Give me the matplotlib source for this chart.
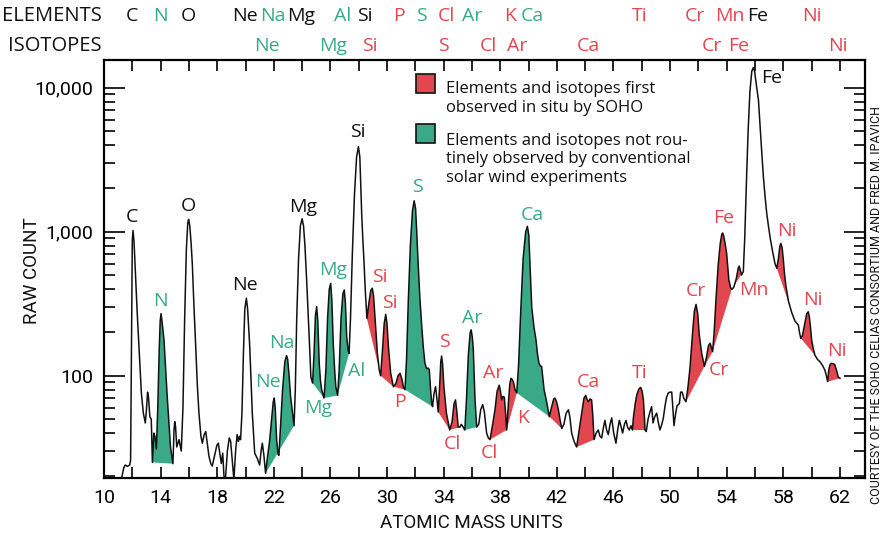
import numpy as np
import matplotlib
matplotlib.use("Agg")
import matplotlib.pyplot as plt
from matplotlib.patches import Rectangle
from matplotlib.ticker import FixedLocator, MultipleLocator, LogLocator, NullFormatter
import matplotlib.transforms as mtransforms

RED = "#e2474f"
GREEN = "#3aaa86"
INK = "#111111"
COLORS = {"k": INK, "r": RED, "g": GREEN}

TEXT_FONT = ["Open Sans", "DejaVu Sans"]
NARROW_FONT = ["Roboto", "DejaVu Sans"]

# mass spectrum (atomic mass units, raw counts)
mass = [
    11.27, 11.40, 11.50, 11.65, 11.82, 11.88, 11.92, 11.96, 12.00, 12.05,
    12.12, 12.24, 12.35, 12.47, 12.64, 12.78, 12.92, 13.00, 13.08, 13.15,
    13.24, 13.34, 13.42, 13.52, 13.60, 13.70, 13.80, 13.90, 13.97, 14.03,
    14.10, 14.24, 14.47, 14.70, 14.87, 14.95, 15.00, 15.06, 15.14, 15.30,
    15.46, 15.58, 15.70, 15.82, 15.92, 15.98, 16.06, 16.15, 16.24, 16.36,
    16.48, 16.60, 16.71, 16.85, 16.95, 17.08, 17.19, 17.30, 17.42, 17.55,
    17.65, 17.85, 17.98, 18.08, 18.18, 18.29, 18.39, 18.48, 18.58, 18.72,
    18.85, 18.95, 19.08, 19.18, 19.30, 19.41, 19.50, 19.58, 19.65, 19.75,
    19.85, 19.95, 20.06, 20.15, 20.30, 20.40, 20.48, 20.65, 20.83, 21.00,
    21.10, 21.19, 21.30, 21.42, 21.55, 21.70, 21.85, 21.96, 22.03, 22.10,
    22.20, 22.30, 22.36, 22.48, 22.62, 22.78, 22.90, 22.98, 23.08, 23.19,
    23.32, 23.43, 23.52, 23.62, 23.75, 23.88, 24.00, 24.10, 24.20, 24.32,
    24.42, 24.50, 24.62, 24.74, 24.84, 24.94, 25.03, 25.11, 25.21, 25.30,
    25.38, 25.55, 25.68, 25.80, 25.92, 26.02, 26.10, 26.20, 26.30, 26.38,
    26.51, 26.62, 26.75, 26.88, 26.98, 27.06, 27.15, 27.25, 27.32, 27.42,
    27.55, 27.70, 27.85, 27.98, 28.08, 28.21, 28.30, 28.38, 28.46, 28.58,
    28.72, 28.85, 28.96, 29.05, 29.15, 29.32, 29.45, 29.55, 29.68, 29.80,
    29.91, 30.00, 30.10, 30.26, 30.45, 30.62, 30.78, 30.92, 31.05, 31.15,
    31.27, 31.38, 31.50, 31.65, 31.80, 31.92, 32.02, 32.10, 32.20, 32.32,
    32.44, 32.56, 32.68, 32.80, 32.92, 32.99, 33.08, 33.16, 33.22, 33.32,
    33.43, 33.52, 33.62, 33.72, 33.80, 33.86, 33.93, 34.02, 34.20, 34.43,
    34.60, 34.74, 34.84, 34.94, 35.03, 35.15, 35.25, 35.38, 35.50, 35.62,
    35.75, 35.88, 35.95, 36.03, 36.10, 36.16, 36.22, 36.34, 36.48, 36.62,
    36.76, 36.88, 37.04, 37.16, 37.28, 37.45, 37.63, 37.78, 37.93, 38.02,
    38.10, 38.20, 38.29, 38.38, 38.46, 38.58, 38.68, 38.76, 38.85, 38.93,
    39.05, 39.17, 39.30, 39.45, 39.62, 39.80, 39.92, 40.02, 40.12, 40.23,
    40.38, 40.53, 40.64, 40.74, 40.84, 40.93, 41.02, 41.10, 41.28, 41.47,
    41.62, 41.78, 41.87, 41.98, 42.10, 42.22, 42.35, 42.50, 42.66, 42.82,
    42.92, 43.05, 43.22, 43.40, 43.58, 43.76, 43.92, 44.04, 44.15, 44.23,
    44.35, 44.46, 44.55, 44.63, 44.78, 44.93, 45.05, 45.17, 45.30, 45.40,
    45.52, 45.64, 45.76, 45.88, 46.02, 46.18, 46.30, 46.42, 46.55, 46.65,
    46.78, 46.89, 47.00, 47.12, 47.24, 47.34, 47.42, 47.55, 47.66, 47.80,
    47.93, 48.03, 48.12, 48.20, 48.23, 48.32, 48.45, 48.58, 48.70, 48.80,
    48.92, 49.06, 49.18, 49.29, 49.42, 49.53, 49.65, 49.76, 49.88, 50.00,
    50.12, 50.20, 50.28, 50.40, 50.50, 50.66, 50.75, 50.86, 50.97, 51.13,
    51.28, 51.42, 51.58, 51.72, 51.84, 51.96, 52.07, 52.24, 52.43, 52.58,
    52.72, 52.83, 52.92, 53.01, 53.12, 53.25, 53.40, 53.55, 53.66, 53.72,
    53.80, 53.90, 54.00, 54.16, 54.28, 54.36, 54.50, 54.68, 54.82, 54.89,
    54.97, 55.06, 55.18, 55.28, 55.40, 55.52, 55.65, 55.78, 55.89, 55.98,
    56.10, 56.25, 56.36, 56.49, 56.60, 56.72, 56.84, 56.96, 57.10, 57.27,
    57.42, 57.55, 57.66, 57.76, 57.83, 57.92, 58.01, 58.10, 58.20, 58.37,
    58.60, 58.83, 58.95, 59.07, 59.15, 59.24, 59.36, 59.52, 59.66, 59.77,
    59.85, 59.93, 60.01, 60.12, 60.24, 60.42, 60.60, 60.80, 60.95, 61.05,
    61.14, 61.22, 61.32, 61.42, 61.55, 61.65, 61.78, 61.89, 62.01,
]
count = [
    20, 23, 24, 23.5, 24, 26, 90, 380, 880, 1020,
    860, 460, 270, 159, 76, 55, 47, 58, 77, 70,
    52, 50, 25, 40, 38, 31, 60, 150, 240, 270,
    240, 177, 71, 32, 24.5, 42, 48, 44, 32, 36,
    30, 60, 250, 750, 1150, 1220, 1100, 850, 600, 300,
    159, 85, 55, 38, 34, 39, 41, 34, 27.5, 24.5,
    23.6, 29, 33, 34, 29, 24.6, 29, 20, 19, 30,
    37, 35, 25, 19, 30, 39, 35, 38, 36, 55,
    140, 290, 345, 290, 159, 90, 55, 29, 26.7, 24,
    30, 34, 28, 21, 27, 35, 50, 66, 70, 60,
    36, 28.5, 28, 45, 80, 125, 138, 130, 100, 71,
    55, 45, 80, 250, 650, 1100, 1230, 1100, 800, 463,
    280, 187, 98, 89, 140, 260, 302, 240, 122, 92,
    80, 70, 110, 250, 400, 438, 340, 168, 110, 84,
    73, 110, 250, 370, 394, 320, 187, 150, 143, 250,
    700, 1800, 3300, 3900, 3300, 1340, 850, 604, 400, 250,
    320, 390, 405, 360, 257, 143, 110, 100, 150, 230,
    267, 230, 159, 104, 84, 88, 100, 104, 95, 84,
    80, 130, 320, 800, 1400, 1640, 1450, 1000, 604, 350,
    232, 160, 122, 112, 113, 110, 80, 64, 61, 75,
    84, 70, 56, 85, 125, 137, 120, 84, 55, 42,
    48, 64, 68, 56, 44, 44, 46, 44, 42, 70,
    140, 200, 208, 185, 151, 100, 68, 44, 46, 58,
    63, 56, 40, 37, 36, 45, 58, 78, 86, 78,
    68, 72, 71, 55, 42, 65, 88, 96, 94, 91,
    80, 76, 120, 280, 650, 1000, 1090, 950, 550, 298,
    220, 177, 140, 122, 117, 116, 95, 80, 66, 52,
    60, 69, 70, 66, 59, 50, 43, 46, 55, 58,
    52, 40, 35, 32, 42, 55, 70, 73, 68, 66,
    69, 68, 52, 36, 40, 42, 38, 37, 44, 49,
    42, 39, 46, 51, 40, 34, 42, 49, 44, 40,
    46, 49, 44, 42, 45, 42, 52, 65, 74, 81,
    83, 78, 68, 50, 42, 41, 50, 56, 61, 47,
    52, 55, 47, 42, 46, 51, 62, 71, 76, 77,
    77, 60, 45, 55, 62, 64, 77, 77, 70, 66,
    85, 116, 190, 280, 313, 270, 191, 143, 116, 135,
    162, 168, 158, 147, 200, 340, 580, 830, 960, 980,
    930, 820, 710, 462, 410, 398, 410, 470, 560, 578,
    540, 500, 528, 900, 2200, 5000, 9500, 13000, 13800, 13000,
    10500, 8200, 5500, 3480, 2400, 1740, 1330, 1090, 880, 710,
    600, 557, 650, 790, 830, 780, 635, 500, 415, 330,
    275, 240, 232, 225, 200, 182, 190, 230, 270, 278,
    255, 215, 177, 155, 139, 130, 125, 117, 109, 100,
    91, 110, 120, 122, 121, 119, 108, 98, 96,
]

# shaded peaks: mass range and category (r = first seen by SOHO, g = not routine)
fill_start = [13.42, 21.42, 24.74, 25.55, 26.51, 28.58, 29.55, 30.45, 31.27,
              33.62, 34.43, 35.50, 37.28, 38.46, 39.17, 41.47, 43.40, 47.34,
              51.13, 52.43, 53.01, 54.36, 57.55, 59.24, 61.14]
fill_end = [14.87, 23.43, 25.55, 26.51, 27.32, 29.55, 30.45, 31.27, 33.22,
            34.43, 35.15, 36.34, 38.46, 39.17, 41.47, 42.35, 44.63, 48.23,
            52.43, 53.01, 54.36, 55.18, 58.83, 60.24, 62.01]
fill_kind = ["g", "g", "g", "g", "g", "r", "r", "r", "g",
             "r", "r", "g", "r", "r", "g", "r", "r", "r",
             "r", "r", "r", "r", "r", "r", "r"]

# peak labels: text, mass, count, colour
peak_text = ["C", "N", "O", "Ne", "Ne", "Na", "Mg", "Mg", "Mg", "Al", "Si",
             "Si", "Si", "P", "S", "S", "Cl", "Ar", "Ar", "Cl", "K", "Ca",
             "Ca", "Ti", "Cr", "Fe", "Mn", "Cr", "Fe", "Ni", "Ni", "Ni"]
peak_x = [12.0, 13.96, 15.96, 19.96, 21.59, 22.58, 24.08, 26.2, 25.14, 27.86,
          27.97, 29.46, 30.21, 30.92, 32.14, 34.03, 34.62, 35.99, 37.51, 37.23,
          39.59, 40.25, 44.23, 47.84, 51.83, 53.77, 55.94, 53.49, 57.19, 58.25,
          60.08, 61.78]
peak_y = [1270, 332, 1517, 427, 90, 170, 1493, 546, 59.4, 108.7,
          4945, 481, 318, 66, 2054, 172, 33.6, 250, 105, 28.9,
          50.6, 1306, 90.9, 104, 389, 1239, 393, 109.5, 11600, 1016,
          336, 148.5]
peak_kind = ["k", "g", "k", "k", "g", "g", "k", "g", "g", "g", "k",
             "r", "r", "r", "g", "r", "r", "g", "r", "r", "r", "g",
             "r", "r", "r", "r", "r", "r", "k", "r", "r", "r"]

# header rows above the plot
element_text = ["C", "N", "O", "Ne", "Na", "Mg", "Al", "Si", "P", "S", "Cl",
                "Ar", "K", "Ca", "Ti", "Cr", "Mn", "Fe", "Ni"]
element_x = [11.98, 13.96, 15.94, 19.96, 21.94, 23.92, 26.89, 28.45, 30.85,
             32.4, 34.17, 36.0, 38.69, 40.25, 47.88, 51.77, 54.24, 56.22, 60.04]
element_kind = ["k", "g", "k", "k", "g", "k", "g", "k", "r", "g", "r",
                "g", "r", "g", "r", "r", "r", "k", "r"]
isotope_text = ["Ne", "Mg", "Si", "S", "Cl", "Ar", "Ca", "Cr", "Fe", "Ni"]
isotope_x = [21.52, 26.18, 28.8, 33.96, 37.14, 39.19, 44.2, 52.97, 54.88, 61.87]
isotope_kind = ["g", "g", "r", "r", "r", "r", "r", "r", "r", "r"]

legend_text = ["Elements and isotopes first\nobserved in situ by SOHO",
               "Elements and isotopes not rou-\ntinely observed by conventional\nsolar wind experiments"]

fig = plt.figure(figsize=(8.93, 5.36), dpi=100)
ax = fig.add_axes([104 / 893, 58 / 536, 761 / 893, 418 / 536])
ax.set_yscale("log")
ax.set_xlim(10, 63.78)
ax.set_ylim(19.5, 15570)

m = np.array(mass)
c = np.array(count)
for x0, x1, kind in zip(fill_start, fill_end, fill_kind):
    sel = (m >= x0 - 1e-6) & (m <= x1 + 1e-6)
    ax.fill(m[sel], c[sel], color=COLORS[kind], lw=0, zorder=2)
ax.plot(m, c, color=INK, lw=1.1, zorder=3, solid_joinstyle="round")

for t, x, y, k in zip(peak_text, peak_x, peak_y, peak_kind):
    ax.text(x, y, t, color=COLORS[k], fontsize=14, family=TEXT_FONT,
            ha="center", va="center", zorder=4)

head = mtransforms.blended_transform_factory(ax.transData, ax.transAxes)
for t, x, k in zip(element_text, element_x, element_kind):
    ax.text(x, 1.105, t, color=COLORS[k], fontsize=14, family=TEXT_FONT,
            ha="center", va="center", transform=head, clip_on=False)
for t, x, k in zip(isotope_text, isotope_x, isotope_kind):
    ax.text(x, 1.034, t, color=COLORS[k], fontsize=14, family=TEXT_FONT,
            ha="center", va="center", transform=head, clip_on=False)
fig.text(102 / 893, 1 - 16 / 536, "ELEMENTS", fontsize=14.5, family=TEXT_FONT,
         ha="right", va="center", color=INK)
fig.text(102 / 893, 1 - 46 / 536, "ISOTOPES", fontsize=14.5, family=TEXT_FONT,
         ha="right", va="center", color=INK)

# legend boxes
for (yb, kind), txt, ty in zip([(0.921, "r"), (0.8014, "g")], legend_text, [0.949, 0.826]):
    ax.add_patch(Rectangle((0.41, yb), 0.025, 0.0445, transform=ax.transAxes,
                           facecolor=COLORS[kind], edgecolor=INK, lw=1.2, zorder=5))
    ax.text(0.449, ty, txt, transform=ax.transAxes, fontsize=12, family=TEXT_FONT,
            ha="left", va="top", linespacing=1.22, color=INK)

# axes styling
for s in ax.spines.values():
    s.set_linewidth(1.6)
ax.xaxis.set_major_locator(FixedLocator(list(range(10, 63, 4))))
ax.xaxis.set_minor_locator(MultipleLocator(2))
ax.tick_params(axis="x", which="both", direction="in", top=True, length=8,
               width=1.2, pad=8)
ax.yaxis.set_major_locator(FixedLocator([100, 1000, 10000]))
ax.yaxis.set_minor_locator(LogLocator(base=10, subs=np.arange(2, 10)))
ax.yaxis.set_minor_formatter(NullFormatter())
ax.set_yticklabels(["100", "1,000", "10,000"])
ax.tick_params(axis="y", which="major", direction="in", right=True, length=15,
               width=1.2, pad=8)
ax.tick_params(axis="y", which="minor", direction="in", right=True, length=8,
               width=1.2)
for lab in ax.get_xticklabels() + ax.get_yticklabels():
    lab.set_family(NARROW_FONT)
    lab.set_fontsize(14)

fig.text(471 / 893, 1 - 523 / 536, "ATOMIC MASS UNITS", family=NARROW_FONT,
         fontsize=13.5, ha="center", va="center", color=INK)
fig.text(32 / 893, 1 - 271 / 536, "RAW COUNT", family=NARROW_FONT,
         fontsize=13.5, rotation=90, ha="center", va="center", color=INK)

fig.text(876 / 893, 1 - 305 / 536, "COURTESY OF THE SOHO CELIAS CONSORTIUM AND FRED M. IPAVICH",
         rotation=90, fontsize=9, family=NARROW_FONT, ha="center", va="center",
         color=INK)

fig.savefig("out.png", dpi=100)
